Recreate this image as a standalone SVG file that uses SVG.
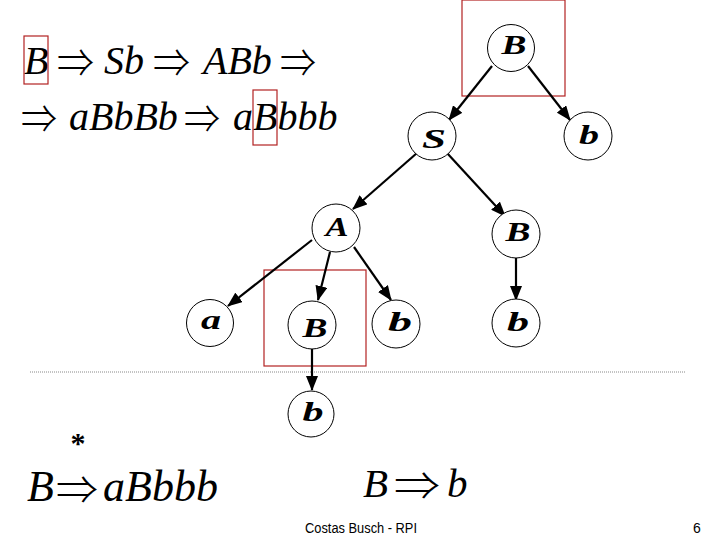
<svg xmlns="http://www.w3.org/2000/svg" width="720" height="540" viewBox="0 0 720 540">
<style>
.f{font-family:"Liberation Serif","Times New Roman",serif;font-style:italic;fill:#000}
.big{font-size:40px}
.arr{font-family:"Noto Sans CJK JP","DejaVu Serif",serif;font-style:normal;font-weight:300;font-size:40px}
.nd circle{fill:#fff;stroke:#000;stroke-width:1}
.nd text{font-family:"Liberation Serif","Times New Roman",serif;font-style:italic;font-weight:bold;font-size:27px;text-anchor:middle}
.e line{stroke:#000;stroke-width:2.2;marker-end:url(#ah)}
.box{fill:none;stroke:#b22222;stroke-width:1.2}
</style>
<defs>
<marker id="ah" markerUnits="userSpaceOnUse" markerWidth="15" markerHeight="12" refX="14" refY="6" orient="auto">
<path d="M0,0 L15,6 L0,12 Z" fill="#000"/>
</marker>
</defs>
<rect width="720" height="540" fill="#fff"/>

<g id="derivation">
<text class="f big" x="24" y="74" font-size="42">B</text>
<text class="arr" x="57" y="77" textLength="37" lengthAdjust="spacingAndGlyphs">⇒</text>
<text class="f big" x="104" y="74">Sb</text>
<text class="arr" x="153" y="77" textLength="37" lengthAdjust="spacingAndGlyphs">⇒</text>
<text class="f big" x="203" y="74">ABb</text>
<text class="arr" x="280" y="77" textLength="36" lengthAdjust="spacingAndGlyphs">⇒</text>
<text class="arr" x="21" y="133" textLength="36" lengthAdjust="spacingAndGlyphs">⇒</text>
<text class="f big" x="69" y="130">aBbBb</text>
<text class="arr" x="184" y="133" textLength="36" lengthAdjust="spacingAndGlyphs">⇒</text>
<text class="f big" x="233" y="130">aBbbb</text>
<rect class="box" x="24" y="36" width="24" height="48"/>
<rect class="box" x="253" y="90" width="24" height="55"/>
</g>

<rect class="box" x="462" y="0" width="103" height="96"/>
<rect class="box" x="264" y="270" width="102" height="96"/>

<line x1="30" y1="372" x2="686" y2="372" stroke="#888" stroke-width="1" stroke-dasharray="1,1"/>

<g id="connectors" class="e">
<line x1="492" y1="66" x2="449" y2="120"/>
<line x1="528" y1="66" x2="570" y2="120"/>
<line x1="417" y1="153" x2="353" y2="209"/>
<line x1="447" y1="153" x2="505" y2="216"/>
<line x1="312" y1="240" x2="228" y2="306"/>
<line x1="330" y1="252" x2="318" y2="300"/>
<line x1="354" y1="247" x2="391" y2="300"/>
<line x1="516" y1="258" x2="516" y2="300"/>
<line x1="312" y1="349" x2="312" y2="390"/>
</g>

<g id="nB1" class="nd"><circle cx="511" cy="48" r="23.5"/><text x="514" y="54" textLength="25" lengthAdjust="spacingAndGlyphs">B</text></g>
<g id="nS" class="nd"><circle cx="432" cy="136" r="24"/><text x="434" y="148" textLength="24" lengthAdjust="spacingAndGlyphs">S</text></g>
<g id="nb1" class="nd"><circle cx="588" cy="136" r="24"/><text x="589" y="144" textLength="20" lengthAdjust="spacingAndGlyphs">b</text></g>
<g id="nA" class="nd"><circle cx="336" cy="228" r="24"/><text x="337" y="236" textLength="23" lengthAdjust="spacingAndGlyphs">A</text></g>
<g id="nB2" class="nd"><circle cx="516" cy="234" r="24"/><text x="518" y="241" textLength="25" lengthAdjust="spacingAndGlyphs">B</text></g>
<g id="na" class="nd"><circle cx="210" cy="323" r="23.5"/><text x="211" y="329" textLength="20" lengthAdjust="spacingAndGlyphs">a</text></g>
<g id="nB3" class="nd"><circle cx="312" cy="325" r="24"/><text x="315" y="337" textLength="25" lengthAdjust="spacingAndGlyphs">B</text></g>
<g id="nb2" class="nd"><circle cx="396" cy="324" r="24"/><text x="400" y="331" textLength="24" lengthAdjust="spacingAndGlyphs">b</text></g>
<g id="nb3" class="nd"><circle cx="516" cy="323" r="24"/><text x="518" y="331" textLength="22" lengthAdjust="spacingAndGlyphs">b</text></g>
<g id="nb4" class="nd"><circle cx="311" cy="414" r="23"/><text x="313" y="421" textLength="21" lengthAdjust="spacingAndGlyphs">b</text></g>

<g id="bottom">
<text x="78" y="453" font-family="Liberation Serif,serif" font-size="30" font-weight="bold" text-anchor="middle">*</text>
<text class="f" x="27" y="501" font-size="44">B</text>
<text class="arr" x="56" y="504" textLength="42" lengthAdjust="spacingAndGlyphs">⇒</text>
<text class="f" x="103" y="501" font-size="44">aBbbb</text>
<text class="f" x="363" y="497" font-size="41">B</text>
<text class="arr" x="394" y="500" textLength="46" lengthAdjust="spacingAndGlyphs">⇒</text>
<text class="f" x="447" y="497" font-size="41">b</text>
<text x="361" y="533" font-family="Liberation Sans Narrow,Liberation Sans,sans-serif" font-size="14" text-anchor="middle" textLength="112" lengthAdjust="spacingAndGlyphs">Costas Busch - RPI</text>
<text x="697" y="533" font-family="Liberation Sans Narrow,Liberation Sans,sans-serif" font-size="14" text-anchor="middle">6</text>
</g>
</svg>
